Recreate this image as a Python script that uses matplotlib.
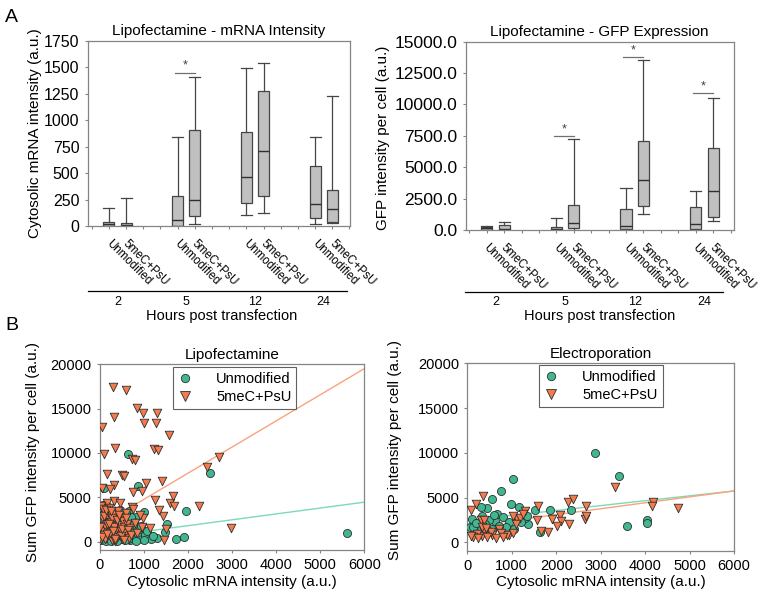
import matplotlib.pyplot as plt
from matplotlib.lines import Line2D

plt.rcParams['font.family'] = ['Liberation Sans', 'DejaVu Sans']

# ---------------- Panel A: box plot summaries ----------------
hours = ['2', '5', '12', '24']
groups = ['Unmodified', '5meC+PsU']
box_pos = [1, 2, 5, 6, 9, 10, 13, 14]

mrna_whislo = [0, 0, 0, 19, 104, 123, 19, 25]
mrna_q1 = [0, 0, 0, 91, 214, 287, 73, 38]
mrna_med = [22, 12, 57, 243, 463, 709, 208, 158]
mrna_q3 = [41, 25, 284, 908, 889, 1274, 564, 341]
mrna_whishi = [173, 268, 845, 1413, 1498, 1539, 842, 1233]
mrna_sig_group = [1]
mrna_sig_height = [1450]

gfp_whislo = [0, 0, 0, 0, 0, 1274, 0, 690]
gfp_q1 = [30, 0, 0, 150, 100, 1912, 80, 1009]
gfp_med = [120, 50, 100, 530, 330, 3956, 478, 3080]
gfp_q3 = [250, 400, 265, 2018, 1646, 7062, 1805, 6505]
gfp_whishi = [310, 610, 930, 7220, 3372, 13514, 3133, 10540]
gfp_sig_group = [1, 2, 3]
gfp_sig_height = [7490, 13750, 10910]

# ---------------- Panel B: scatter data ----------------
lipo_unmod_x = [636, 870, 98, 2497, 1952, 999, 1513, 1475, 5599, 1907, 1717, 1286, 1097, 817, 76, 666,
                30, 60, 90, 120, 150, 180, 210, 240, 270, 300,
                330, 360, 390, 420, 450, 480, 510, 540, 570, 600,
                630, 660, 690, 720, 750, 780, 810, 840, 870, 900,
                930, 960, 1020, 1060, 1150, 1200, 50, 100, 200, 280,
                350, 400, 460, 520, 580, 640, 700, 760, 20, 140,
                250, 380, 560, 820, 1000, 440, 320, 170, 600, 680]
lipo_unmod_y = [9925, 6227, 6038, 7737, 3472, 3397, 1962, 1057, 1019, 491, 302, 377, 491, 2830, 4151, 3510,
                200, 900, 1500, 300, 2600, 1200, 500, 3300, 800, 1900,
                150, 2900, 600, 1400, 3600, 250, 2100, 900, 1700, 400,
                2500, 1100, 200, 1600, 700, 2200, 350, 1300, 900, 500,
                1800, 250, 700, 1200, 300, 600, 3000, 2200, 3800, 2700,
                1000, 3100, 1600, 500, 3200, 300, 2800, 1900, 600, 100,
                50, 100, 150, 100, 150, 2400, 3500, 4000, 2000, 1300]

lipo_mod_x = [303, 590, 38, 325, 832, 968, 1006, 1286, 1264, 1574,
              340, 91, 734, 794, 1226, 1309, 2701, 2421, 166, 491,
              544, 1037, 1400, 757, 961, 325, 38, 227, 1256, 1589,
              1649, 1687, 2247, 1438, 1347, 1135, 1491, 2966, 1460, 325,
              454, 719, 151, 968,
              20, 40, 60, 80, 100, 120, 140, 160, 180, 200,
              220, 240, 260, 280, 300, 320, 340, 360, 380, 400,
              420, 440, 460, 480, 500, 520, 540, 560, 580, 600,
              620, 650, 680, 30, 70, 110, 150, 190, 230, 270,
              310, 350, 390, 430, 470, 510, 550, 590, 630, 700,
              750, 800, 850, 900, 950, 10, 50, 90, 130, 170,
              210, 250, 290, 330]
lipo_mod_y = [17473, 17096, 12907, 14077, 15096, 14530, 13397, 14454, 13397, 12076,
              10567, 9925, 9321, 9246, 10454, 10378, 9548, 8416, 7661, 7473,
              7359, 6605, 6793, 5586, 5737, 6340, 6038, 5925, 4642, 4340,
              5095, 4076, 4038, 2944, 3585, 1585, 1396, 1510, 189, 4529,
              4340, 3887, 4340, 2642,
              300, 1200, 2500, 700, 3400, 1800, 400, 2900, 1100, 3800,
              600, 2200, 1500, 200, 3100, 900, 2600, 1300, 500, 3500,
              1900, 800, 2800, 1200, 300, 2300, 1600, 700, 3200, 1000,
              2000, 400, 1500, 4000, 3700, 250, 2000, 3300, 1000, 2700,
              1700, 100, 2400, 3000, 600, 1400, 200, 2700, 1300, 800,
              3700, 2100, 1000, 3000, 1700, 1600, 500, 2900, 3600, 900,
              2000, 3500, 1200, 300]

elec_unmod_x = [2873, 3413, 1035, 751, 563, 983, 1170, 436, 301, 1860,
                2333, 1523, 99, 61, 3586, 4036, 4036, 1636, 1372, 675,
                810, 630, 495, 335, 300, 120, 945, 1130, 1300, 1200,
                1350, 870, 720, 560, 430, 1050, 300, 400, 200, 600]
elec_unmod_y = [9925, 7386, 7016, 5740, 4812, 4331, 3950, 3838, 3950, 3581,
                3660, 3660, 2652, 1712, 1790, 2462, 2200, 1153, 2093, 3133,
                2831, 2350, 2500, 2900, 2350, 1700, 2280, 2500, 2700, 2300,
                2900, 1750, 1850, 1500, 1650, 1500, 1400, 2000, 2200, 3000]

elec_mod_x = [360, 189, 83, 1598, 2273, 2385, 2670, 3323, 4185, 4150,
              4748, 1575, 1898, 2086, 2098, 2025, 2295, 2648, 2670, 1823,
              1650, 1125, 1035, 1185, 1090, 945, 900, 1035, 720, 765,
              560, 525, 380, 340, 210, 120, 80, 250, 450, 650,
              800, 300, 380, 330, 430, 1300, 1250]
elec_mod_y = [5150, 4330, 3660, 4030, 4510, 4890, 4030, 6190, 4510, 4030,
              3838, 2462, 2574, 3022, 2350, 1790, 2093, 2652, 2900, 1153,
              1250, 2600, 2900, 2750, 2000, 862, 800, 1000, 1500, 1000,
              800, 1100, 1150, 700, 950, 550, 700, 500, 600, 500,
              600, 2500, 2450, 1700, 1550, 3500, 3200]

# regression lines (intercept, slope) as drawn in the figure
lipo_fit_unmod = (481, 0.662)
lipo_fit_mod = (1835, 2.946)
elec_fit_unmod = (2465, 0.545)
elec_fit_mod = (1759, 0.663)

GREEN = '#3fb892'
ORANGE = '#f47b4c'
GREEN_LINE = '#7fd8b8'
ORANGE_LINE = '#f9a37c'
SPINE = '#858585'

fig = plt.figure(figsize=(7.61, 6.07), dpi=100)
W, H = 761.0, 607.0


def ax_px(l, t, r, b):
    return fig.add_axes([l / W, 1 - b / H, (r - l) / W, (b - t) / H])


def style(ax, size):
    for s in ax.spines.values():
        s.set_color(SPINE)
        s.set_linewidth(0.9)
    ax.tick_params(direction='out', length=2.5, width=0.8, color=SPINE, labelsize=size)


def box_panel(ax, whislo, q1, med, q3, whishi, sig_group, sig_height, ylim, ystep, fmt,
              xlim, star_off, title, ylabel, ysize):
    stats = []
    for i in range(len(box_pos)):
        stats.append(dict(whislo=whislo[i], q1=q1[i], med=med[i], q3=q3[i], whishi=whishi[i], fliers=[]))
    ax.bxp(stats, positions=box_pos, widths=0.64, capwidths=0.64, showfliers=False,
           patch_artist=True, manage_ticks=False,
           boxprops=dict(facecolor='#c0c0c0', edgecolor='#454545', linewidth=0.9),
           medianprops=dict(color='#303030', linewidth=1.0),
           whiskerprops=dict(color='#454545', linewidth=0.9),
           capprops=dict(color='#454545', linewidth=0.9))
    for g, h in zip(sig_group, sig_height):
        x0 = box_pos[2 * g] - 0.15
        x1 = box_pos[2 * g + 1]
        ax.plot([x0, x1], [h, h], color='#707070', lw=0.9)
        ax.text((x0 + x1) / 2, h + star_off, '*', ha='center', va='bottom', fontsize=9, color='#404040')
    ax.set_xlim(*xlim)
    ax.set_ylim(*ylim)
    ax.set_yticks(range(0, ylim[1] + 1, ystep))
    ax.set_yticklabels([fmt % v for v in range(0, ylim[1] + 1, ystep)])
    labels = [''] * 16
    for p, lab in zip(box_pos, groups * 4):
        labels[p] = lab
    ax.set_xticks(range(16))
    ax.set_xticklabels(labels, rotation=-45, ha='left', va='center_baseline', rotation_mode='anchor')
    style(ax, ysize)
    ax.tick_params(axis='x', labelsize=8.3, pad=8)
    ax.set_title(title, fontsize=11, pad=4)
    ax.set_ylabel(ylabel, fontsize=11)


# ---- A left ----
axA1 = ax_px(87.7, 41, 350, 226)
box_panel(axA1, mrna_whislo, mrna_q1, mrna_med, mrna_q3, mrna_whishi, mrna_sig_group, mrna_sig_height,
          (0, 1750), 250, '%d', (-0.23, 15.03), 10, 'Lipofectamine - mRNA Intensity',
          'Cytosolic mRNA intensity (a.u.)', 11.5)
axA1.yaxis.set_label_coords(-0.175, 0.5)

# ---- A right ----
axA2 = ax_px(466, 41.7, 733.5, 230)
box_panel(axA2, gfp_whislo, gfp_q1, gfp_med, gfp_q3, gfp_whishi, gfp_sig_group, gfp_sig_height,
          (0, 15000), 2500, '%.1f', (-0.19, 15.17), 80, 'Lipofectamine - GFP Expression',
          'GFP intensity per cell (a.u.)', 12.5)
axA2.yaxis.set_label_coords(-0.285, 0.49)

# group separator lines and hour labels
for ax, yline, ynum, x0, x1 in [(axA1, -0.351, -0.41, -0.21, 14.86), (axA2, -0.329, -0.382, -0.25, 14.57)]:
    tr = ax.get_xaxis_transform()
    ax.plot([x0, x1], [yline, yline], transform=tr, clip_on=False, color='black', lw=0.9)
    for i, h in enumerate(hours):
        xc = (box_pos[2 * i] + box_pos[2 * i + 1]) / 2
        ax.text(xc, ynum, h, transform=tr, ha='center', va='center', fontsize=9)
fig.text(222 / W, 1 - 316 / H, 'Hours post transfection', ha='center', va='center', fontsize=10.5)
fig.text(600 / W, 1 - 316 / H, 'Hours post transfection', ha='center', va='center', fontsize=10.5)


# ---------------- Panel B ----------------
def scatter_panel(ax, ux, uy, mx, my, fit_u, fit_m, title, legx, legy):
    xs = [0, 6000]
    ax.plot(xs, [fit_u[0] + fit_u[1] * x for x in xs], color=GREEN_LINE, lw=1.0, zorder=1)
    ax.plot(xs, [fit_m[0] + fit_m[1] * x for x in xs], color=ORANGE_LINE, lw=1.0, zorder=1)
    ax.scatter(ux, uy, s=34, marker='o', color=GREEN, edgecolors='#2e2e2e', linewidths=0.6, zorder=3)
    ax.scatter(mx, my, s=38, marker='v', color=ORANGE, edgecolors='#2e2e2e', linewidths=0.6, zorder=4)
    ax.set_xlim(0, 6000)
    ax.set_ylim(-940, 20000)
    ax.set_xticks(range(0, 6001, 1000))
    ax.set_yticks(range(0, 20001, 5000))
    style(ax, 10.5)
    ax.set_title(title, fontsize=11, pad=4)
    ax.set_xlabel('Cytosolic mRNA intensity (a.u.)', fontsize=11)
    ax.set_ylabel('Sum GFP intensity per cell (a.u.)', fontsize=11)
    handles = [Line2D([], [], ls='', marker='o', ms=6, mfc=GREEN, mec='#2e2e2e', mew=0.6),
               Line2D([], [], ls='', marker='v', ms=6.5, mfc=ORANGE, mec='#2e2e2e', mew=0.6)]
    leg = ax.legend(handles, groups, loc='upper left', bbox_to_anchor=(legx, legy), borderaxespad=0,
                    fontsize=10.5, handlelength=1.0, handletextpad=1.6, borderpad=0.35,
                    labelspacing=0.25, fancybox=False, framealpha=1)
    leg.get_frame().set_edgecolor('#606060')
    leg.get_frame().set_linewidth(0.8)


axB1 = ax_px(100, 364.3, 364.3, 550)
scatter_panel(axB1, lipo_unmod_x, lipo_unmod_y, lipo_mod_x, lipo_mod_y, lipo_fit_unmod, lipo_fit_mod,
              'Lipofectamine', 0.276, 0.985)
axB1.yaxis.set_label_coords(-0.227, 0.528)
axB1.xaxis.set_label_coords(0.5, -0.135)

axB2 = ax_px(467.3, 363.3, 734, 550.7)
scatter_panel(axB2, elec_unmod_x, elec_unmod_y, elec_mod_x, elec_mod_y, elec_fit_unmod, elec_fit_mod,
              'Electroporation', 0.269, 0.991)
axB2.yaxis.set_label_coords(-0.245, 0.537)
axB2.xaxis.set_label_coords(0.5, -0.13)

fig.text(11 / W, 1 - 18 / H, 'A', ha='center', va='center', fontsize=14)
fig.text(12 / W, 1 - 326 / H, 'B', ha='center', va='center', fontsize=14)

fig.savefig('out.png', dpi=100)
